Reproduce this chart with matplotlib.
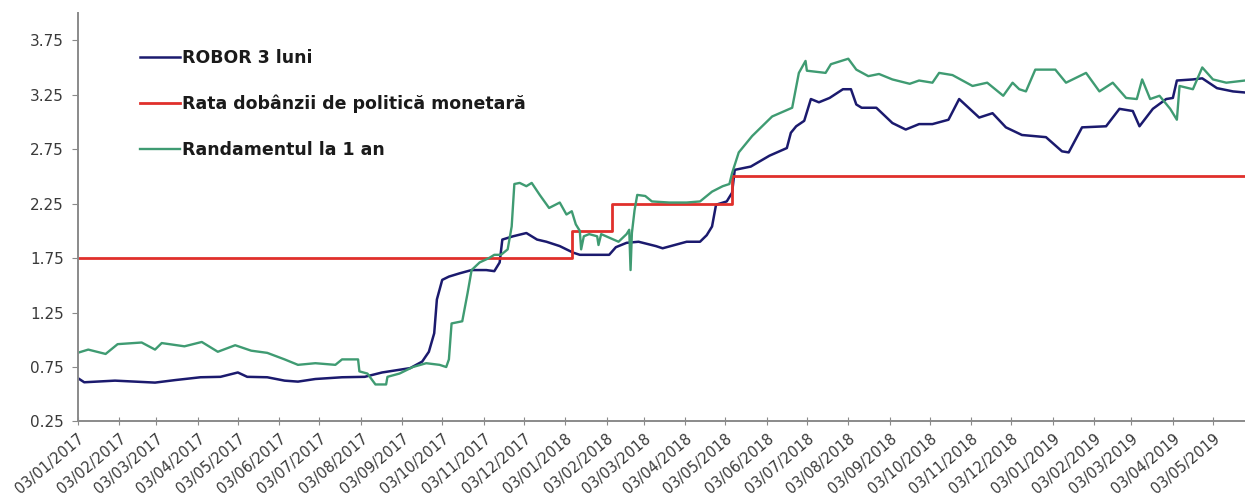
import numpy as np
import pandas as pd
import matplotlib
matplotlib.use('Agg')
import matplotlib.pyplot as plt

# ROBOR 3 luni
robor_dates = ['2017-01-03', '2017-01-08', '2017-01-31', '2017-03-02', '2017-03-17', '2017-04-05',
               '2017-04-20', '2017-05-03', '2017-05-10', '2017-05-25', '2017-06-07', '2017-06-17',
               '2017-06-30', '2017-07-20', '2017-08-06', '2017-08-19', '2017-09-09', '2017-09-18',
               '2017-09-23', '2017-09-27', '2017-09-29', '2017-10-03', '2017-10-08', '2017-10-16',
               '2017-10-25', '2017-11-05', '2017-11-11', '2017-11-15', '2017-11-17', '2017-11-25',
               '2017-12-05', '2017-12-13', '2017-12-20', '2017-12-30', '2018-01-09', '2018-01-14',
               '2018-02-05', '2018-02-10', '2018-02-18', '2018-02-27', '2018-03-12', '2018-03-17',
               '2018-04-04', '2018-04-14', '2018-04-19', '2018-04-23', '2018-04-26', '2018-05-04',
               '2018-05-08', '2018-05-10', '2018-05-22', '2018-06-05', '2018-06-18', '2018-06-21',
               '2018-06-25', '2018-07-01', '2018-07-06', '2018-07-12', '2018-07-20', '2018-07-30',
               '2018-08-05', '2018-08-09', '2018-08-13', '2018-08-24', '2018-09-05', '2018-09-15',
               '2018-09-25', '2018-10-05', '2018-10-17', '2018-10-25', '2018-11-09', '2018-11-19',
               '2018-11-29', '2018-12-11', '2018-12-29', '2019-01-10', '2019-01-15', '2019-01-25',
               '2019-02-12', '2019-02-22', '2019-03-04', '2019-03-09', '2019-03-19', '2019-03-29',
               '2019-04-03', '2019-04-06', '2019-04-18', '2019-04-25', '2019-05-06', '2019-05-18',
               '2019-05-27']
robor_vals = [0.65, 0.61, 0.625, 0.607, 0.63, 0.656,
              0.66, 0.70, 0.66, 0.656, 0.625, 0.616,
              0.64, 0.656, 0.66, 0.70, 0.74, 0.80,
              0.89, 1.06, 1.37, 1.55, 1.58, 1.61,
              1.64, 1.64, 1.63, 1.71, 1.92, 1.95,
              1.98, 1.92, 1.90, 1.86, 1.80, 1.78,
              1.78, 1.85, 1.89, 1.90, 1.86, 1.84,
              1.90, 1.90, 1.96, 2.04, 2.24, 2.27,
              2.35, 2.56, 2.59, 2.69, 2.76, 2.90,
              2.96, 3.01, 3.21, 3.18, 3.22, 3.30,
              3.30, 3.16, 3.13, 3.13, 2.99, 2.93,
              2.98, 2.98, 3.02, 3.21, 3.04, 3.08,
              2.95, 2.88, 2.86, 2.73, 2.72, 2.95,
              2.96, 3.12, 3.10, 2.96, 3.12, 3.21,
              3.22, 3.38, 3.39, 3.40, 3.31, 3.28,
              3.27]

# Rata dobanzii de politica monetara
policy_dates = ['2017-01-03', '2018-01-08', '2018-02-07', '2018-05-08', '2019-05-27']
policy_vals = [1.75, 2.00, 2.25, 2.50, 2.50]

# Randamentul la 1 an
yield_dates = ['2017-01-03', '2017-01-11', '2017-01-24', '2017-02-02', '2017-02-20', '2017-03-02',
               '2017-03-07', '2017-03-24', '2017-04-06', '2017-04-18', '2017-05-01', '2017-05-13',
               '2017-05-25', '2017-06-07', '2017-06-17', '2017-06-30', '2017-07-15', '2017-07-20',
               '2017-08-01', '2017-08-02', '2017-08-08', '2017-08-14', '2017-08-22', '2017-08-23',
               '2017-09-01', '2017-09-11', '2017-09-21', '2017-10-01', '2017-10-06', '2017-10-08',
               '2017-10-10', '2017-10-18', '2017-10-22', '2017-10-25', '2017-10-31', '2017-11-07',
               '2017-11-11', '2017-11-16', '2017-11-21', '2017-11-24', '2017-11-26', '2017-11-30',
               '2017-12-05', '2017-12-09', '2017-12-15', '2017-12-22', '2017-12-30', '2018-01-04',
               '2018-01-08', '2018-01-11', '2018-01-14', '2018-01-15', '2018-01-17', '2018-01-21',
               '2018-01-27', '2018-01-28', '2018-01-30', '2018-02-12', '2018-02-18', '2018-02-20',
               '2018-02-21', '2018-02-22', '2018-02-24', '2018-02-26', '2018-03-04', '2018-03-09',
               '2018-03-22', '2018-04-04', '2018-04-14', '2018-04-19', '2018-04-23', '2018-05-01',
               '2018-05-06', '2018-05-08', '2018-05-13', '2018-05-23', '2018-06-07', '2018-06-22',
               '2018-06-27', '2018-07-02', '2018-07-03', '2018-07-17', '2018-07-21', '2018-08-03',
               '2018-08-09', '2018-08-18', '2018-08-26', '2018-09-05', '2018-09-18', '2018-09-25',
               '2018-10-05', '2018-10-10', '2018-10-20', '2018-11-04', '2018-11-15', '2018-11-27',
               '2018-12-04', '2018-12-09', '2018-12-14', '2018-12-21', '2019-01-05', '2019-01-13',
               '2019-01-28', '2019-02-07', '2019-02-17', '2019-02-27', '2019-03-07', '2019-03-11',
               '2019-03-17', '2019-03-24', '2019-04-01', '2019-04-06', '2019-04-08', '2019-04-18',
               '2019-04-25', '2019-05-03', '2019-05-13', '2019-05-27']
yield_vals = [0.88, 0.91, 0.87, 0.96, 0.975, 0.91,
              0.97, 0.94, 0.98, 0.89, 0.95, 0.90,
              0.88, 0.82, 0.77, 0.785, 0.77, 0.82,
              0.82, 0.71, 0.69, 0.59, 0.59, 0.66,
              0.69, 0.75, 0.785, 0.77, 0.75, 0.82,
              1.15, 1.17, 1.43, 1.64, 1.71, 1.75,
              1.78, 1.78, 1.83, 2.04, 2.43, 2.44,
              2.41, 2.44, 2.33, 2.21, 2.26, 2.15,
              2.18, 2.06, 2.00, 1.83, 1.95, 1.97,
              1.95, 1.87, 1.97, 1.90, 1.97, 2.01,
              1.64, 1.98, 2.19, 2.33, 2.32, 2.27,
              2.26, 2.26, 2.27, 2.32, 2.36, 2.41,
              2.43, 2.53, 2.72, 2.87, 3.05, 3.13,
              3.45, 3.56, 3.47, 3.45, 3.53, 3.58,
              3.48, 3.42, 3.44, 3.39, 3.35, 3.38,
              3.36, 3.45, 3.43, 3.33, 3.36, 3.24,
              3.36, 3.30, 3.28, 3.48, 3.48, 3.36,
              3.45, 3.28, 3.36, 3.22, 3.21, 3.39,
              3.21, 3.24, 3.12, 3.02, 3.33, 3.30,
              3.50, 3.39, 3.36, 3.38]

labels = ['ROBOR 3 luni', 'Rata dobânzii de politică monetară', 'Randamentul la 1 an']
colors = ['#1b1a6e', '#e0302b', '#3f9b72']

tick_dates = pd.date_range('2017-01-01', '2019-05-01', freq='MS') + pd.Timedelta(days=2)
tick_labels = [d.strftime('%d/%m/%Y') for d in tick_dates]

fig = plt.figure(figsize=(12.45, 5.01), dpi=100)
ax = fig.add_axes([0.0623, 0.1587, 0.9377, 0.8154])

ax.plot(pd.to_datetime(robor_dates), robor_vals, color=colors[0], lw=1.8, label=labels[0])
ax.plot(pd.to_datetime(policy_dates), policy_vals, color=colors[1], lw=2.0,
        drawstyle='steps-post', label=labels[1])
ax.plot(pd.to_datetime(yield_dates), yield_vals, color=colors[2], lw=1.7, label=labels[2])

ax.set_xlim(pd.Timestamp('2017-01-03'), pd.Timestamp('2019-05-27'))
ax.set_ylim(0.25, 4.0)
ax.set_yticks(np.arange(0.25, 3.76, 0.5))
ax.yaxis.set_major_formatter(matplotlib.ticker.FormatStrFormatter('%.2f'))

ax.set_xticks(tick_dates)
ax.set_xticklabels(tick_labels, rotation=40, ha='right', va='top', rotation_mode='anchor')

for s in ['top', 'right']:
    ax.spines[s].set_visible(False)
for s in ['left', 'bottom']:
    ax.spines[s].set_color('#8a8a8a')
    ax.spines[s].set_linewidth(1.4)

ax.tick_params(axis='y', direction='out', length=4, color='#8a8a8a', labelsize=11,
               labelcolor='#3a3a3a', pad=6)
ax.tick_params(axis='x', direction='inout', length=6, color='#8a8a8a', labelsize=10.5,
               labelcolor='#3a3a3a', pad=4)

leg = ax.legend(loc='upper left', bbox_to_anchor=(0.0535, 0.912), frameon=False,
                borderaxespad=0, borderpad=0, handlelength=2.3, handletextpad=0.1,
                labelspacing=1.6, prop={'weight': 'bold', 'size': 12.5})
for t in leg.get_texts():
    t.set_color('#1a1a1a')

plt.savefig('out.png', dpi=100)
